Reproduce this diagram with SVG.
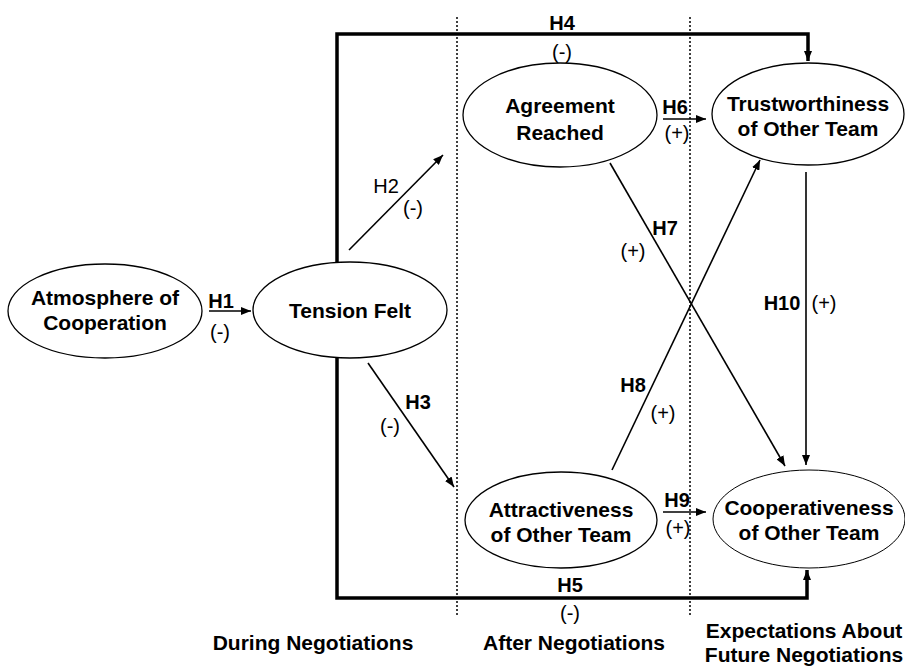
<svg xmlns="http://www.w3.org/2000/svg" width="905" height="666" viewBox="0 0 905 666">
<style>
.node ellipse{fill:#fff;stroke:#000;stroke-width:1.3}
.nt{font-family:"Liberation Sans",Arial,sans-serif;font-weight:bold;font-size:21px;text-anchor:middle;fill:#000}
.lb{font-family:"Liberation Sans",Arial,sans-serif;font-weight:bold;font-size:20px;text-anchor:middle;fill:#000}
.ln{font-family:"Liberation Sans",Arial,sans-serif;font-size:20px;text-anchor:middle;fill:#000}
.sec{font-family:"Liberation Sans",Arial,sans-serif;font-weight:bold;font-size:21px;text-anchor:middle;fill:#000}
.thin{fill:none;stroke:#000;stroke-width:1.6;marker-end:url(#ah)}
.thick{fill:none;stroke:#000;stroke-width:3.5;marker-end:url(#ah)}
.dot{stroke:#000;stroke-width:1.5;stroke-dasharray:2,2}
</style>
<defs>
<marker id="ah" markerUnits="userSpaceOnUse" markerWidth="10" markerHeight="8" refX="10" refY="4" orient="auto">
<path d="M0,0 L10,4 L0,8 z" fill="#000"/>
</marker>
</defs>
<rect width="905" height="666" fill="#fff"/>
<g id="dividers">
<line class="dot" x1="457" y1="17" x2="457" y2="617"/>
<line class="dot" x1="690" y1="17" x2="690" y2="617"/>
</g>
<g id="connectors">
<path class="thick" d="M337,262 V34 H808 V61"/>
<path class="thick" d="M337,358 V598 H807 V570"/>
<line class="thin" x1="209" y1="311" x2="251" y2="311"/>
<line class="thin" x1="349" y1="250" x2="443" y2="155"/>
<line class="thin" x1="368" y1="363" x2="454" y2="487"/>
<line class="thin" x1="663" y1="119" x2="706" y2="119"/>
<line class="thin" x1="663" y1="512" x2="706" y2="512"/>
<line class="thin" x1="610" y1="163" x2="785" y2="466"/>
<line class="thin" x1="612" y1="470" x2="760" y2="160"/>
<line class="thin" x1="806" y1="172" x2="806" y2="465"/>
<text class="lb" x="221" y="308">H1</text>
<text class="ln" x="220" y="339">(-)</text>
<text class="ln" x="386" y="193">H2</text>
<text class="ln" x="413" y="215">(-)</text>
<text class="lb" x="418" y="409">H3</text>
<text class="ln" x="390" y="433">(-)</text>
<text class="lb" x="562" y="30">H4</text>
<text class="ln" x="562" y="59">(-)</text>
<text class="lb" x="570" y="592">H5</text>
<text class="ln" x="570" y="620">(-)</text>
<text class="lb" x="675" y="114">H6</text>
<text class="ln" x="677" y="140">(+)</text>
<text class="lb" x="665" y="235">H7</text>
<text class="ln" x="633" y="258">(+)</text>
<text class="lb" x="633" y="392">H8</text>
<text class="ln" x="663" y="420">(+)</text>
<text class="lb" x="677" y="507">H9</text>
<text class="ln" x="678" y="535">(+)</text>
<text class="lb" x="782" y="310">H10</text>
<text class="ln" x="824" y="310">(+)</text>
</g>
<g id="atmosphere" class="node">
<ellipse cx="105" cy="311" rx="97" ry="47"/>
<text class="nt" x="105" y="305">Atmosphere of</text>
<text class="nt" x="105" y="330">Cooperation</text>
</g>
<g id="tension" class="node">
<ellipse cx="350" cy="310" rx="97" ry="48"/>
<text class="nt" x="350" y="318">Tension Felt</text>
</g>
<g id="agreement" class="node">
<ellipse cx="560" cy="115" rx="97" ry="52"/>
<text class="nt" x="560" y="113">Agreement</text>
<text class="nt" x="560" y="140">Reached</text>
</g>
<g id="trustworthiness" class="node">
<ellipse cx="808" cy="114" rx="96" ry="51"/>
<text class="nt" x="808" y="111">Trustworthiness</text>
<text class="nt" x="808" y="136">of Other Team</text>
</g>
<g id="attractiveness" class="node">
<ellipse cx="561" cy="520" rx="96" ry="48"/>
<text class="nt" x="561" y="517">Attractiveness</text>
<text class="nt" x="561" y="542">of Other Team</text>
</g>
<g id="cooperativeness" class="node">
<ellipse cx="809" cy="519" rx="96" ry="49" style="stroke-width:1"/>
<text class="nt" x="809" y="515">Cooperativeness</text>
<text class="nt" x="809" y="540">of Other Team</text>
</g>
<g id="sections">
<text class="sec" x="313" y="650">During Negotiations</text>
<text class="sec" x="574" y="650">After Negotiations</text>
<text class="sec" x="804" y="638">Expectations About</text>
<text class="sec" x="804" y="662">Future Negotiations</text>
</g>
</svg>
